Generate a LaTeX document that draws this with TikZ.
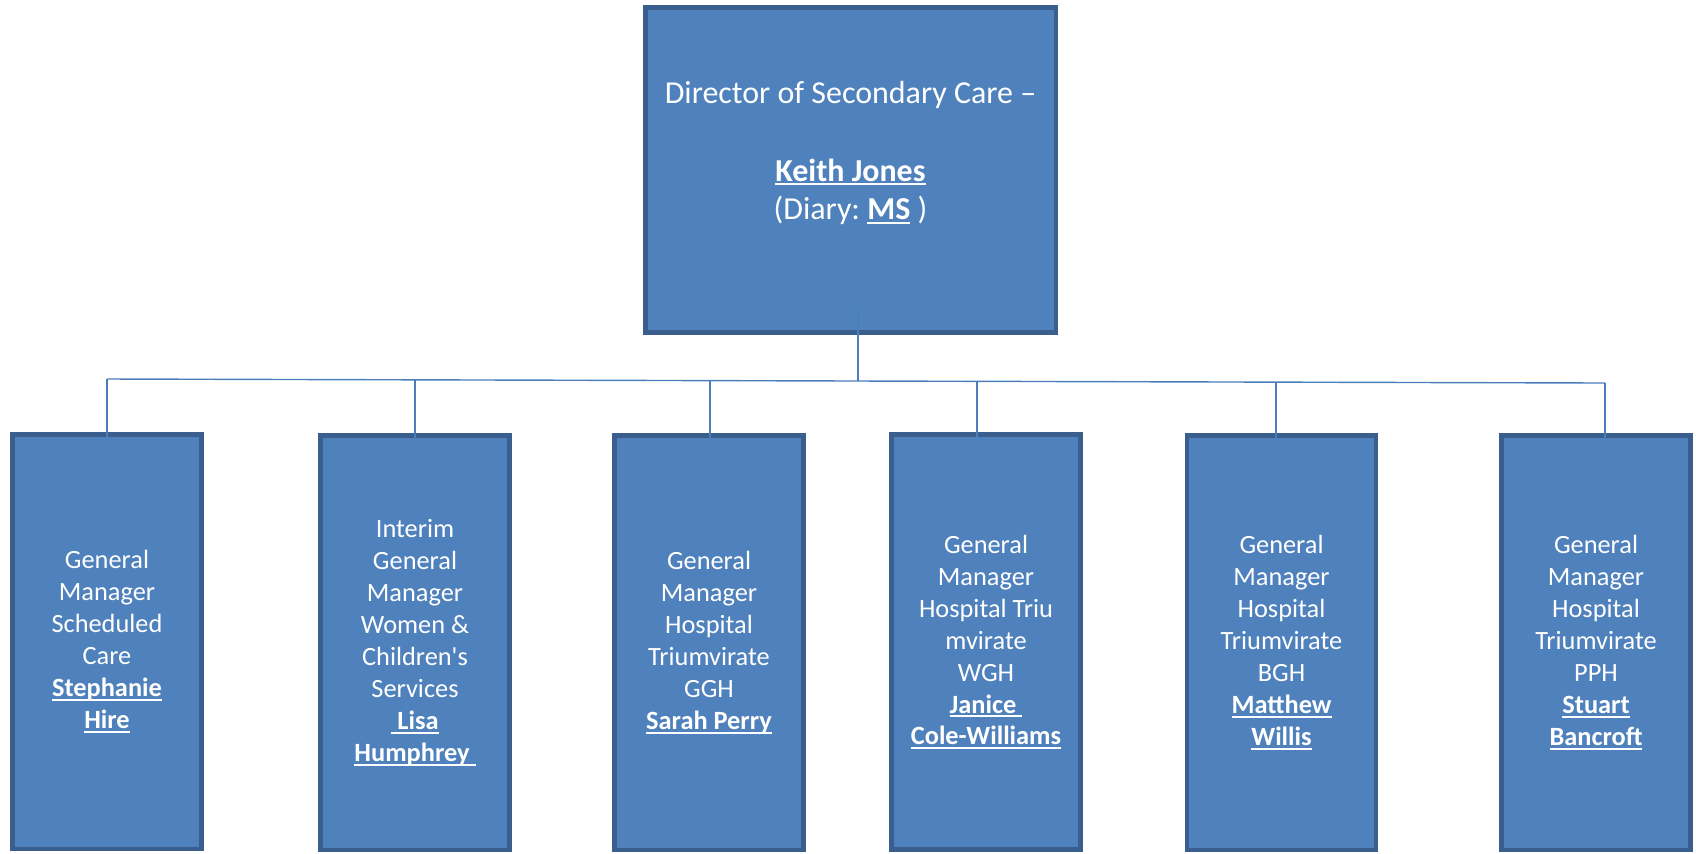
\documentclass[tikz,border=0pt]{standalone}
\usepackage{fontspec}
\setmainfont{Carlito}
\usetikzlibrary{positioning}
\definecolor{boxfill}{HTML}{4F81BD}
\definecolor{boxline}{HTML}{3A5F8F}
\definecolor{linkblue}{HTML}{4A7EBB}
\newcommand{\staffname}[1]{\leavevmode\setbox0\hbox{\textbf{#1}}\rlap{\vrule width\wd0 height -1.3pt depth 2.4pt}\box0\relax}
\frenchspacing

\begin{document}
\begin{tikzpicture}[x=0.02cm, y=-0.02cm,
    director/.style={rectangle, draw=boxline, fill=boxfill, line width=2.8pt, minimum width=8.22cm, minimum height=6.5cm, text=white, align=center, font=\fontsize{18.2}{22}\selectfont},
    manager/.style={rectangle, draw=boxline, fill=boxfill, line width=2.8pt, minimum width=3.78cm, minimum height=8.3cm, text=white, align=center, font=\fontsize{15}{18.2}\selectfont},
    link/.style={draw=linkblue, line width=0.8pt}
  ]
    \useasboundingbox (0,0) rectangle (1696,853);

    % Director
    \node[director] (dir) at (850.5,170) {Director of Secondary Care --\\ \mbox{}\\ \staffname{Keith Jones}\\ (Diary: \staffname{MS} )\\ \mbox{}};

    % General managers
    \node[manager] (gm1) at (107,641.5) {General\\ Manager\\ Scheduled\\ Care\\ \staffname{Stephanie}\\ \staffname{Hire}};
    \node[manager] (gm2) at (415,642.5) {Interim\\ General\\ Manager\\ Women \&\\ Children\textquotesingle s\\ Services\\ \staffname{\ Lisa}\\ \staffname{Humphrey\ }};
    \node[manager] (gm3) at (709,642.5) {General\\ Manager\\ Hospital\\ Triumvirate\\ GGH\\ \staffname{Sarah Perry}};
    \node[manager] (gm4) at (986,642) {General\\ Manager\\ Hospital Triu\\ mvirate\\ WGH\\ \staffname{Janice\ }\\ \staffname{Cole-Williams}};
    \node[manager] (gm5) at (1281.5,642.5) {General\\ Manager\\ Hospital\\ Triumvirate\\ BGH\\ \staffname{Matthew}\\ \staffname{Willis}};
    \node[manager] (gm6) at (1596,642.5) {General\\ Manager\\ Hospital\\ Triumvirate\\ PPH\\ \staffname{Stuart}\\ \staffname{Bancroft}};

    % Bus points
    \coordinate (top) at (858,308);
    \coordinate (b0) at (858,381);
    \coordinate (b1) at (107,379);
    \coordinate (b2) at (415,379.8);
    \coordinate (b3) at (710,380.6);
    \coordinate (b4) at (977,381.3);
    \coordinate (b5) at (1276,382.1);
    \coordinate (b6) at (1605,383);

    % Connectors
    \draw[link] (top) -- (b0);
    \draw[link] (b1) -- (b6);
    \foreach \i in {1,...,6}
      \draw[link] (b\i) -- ([yshift=-3pt]b\i |- gm\i.north);
  \end{tikzpicture}
\end{document}
